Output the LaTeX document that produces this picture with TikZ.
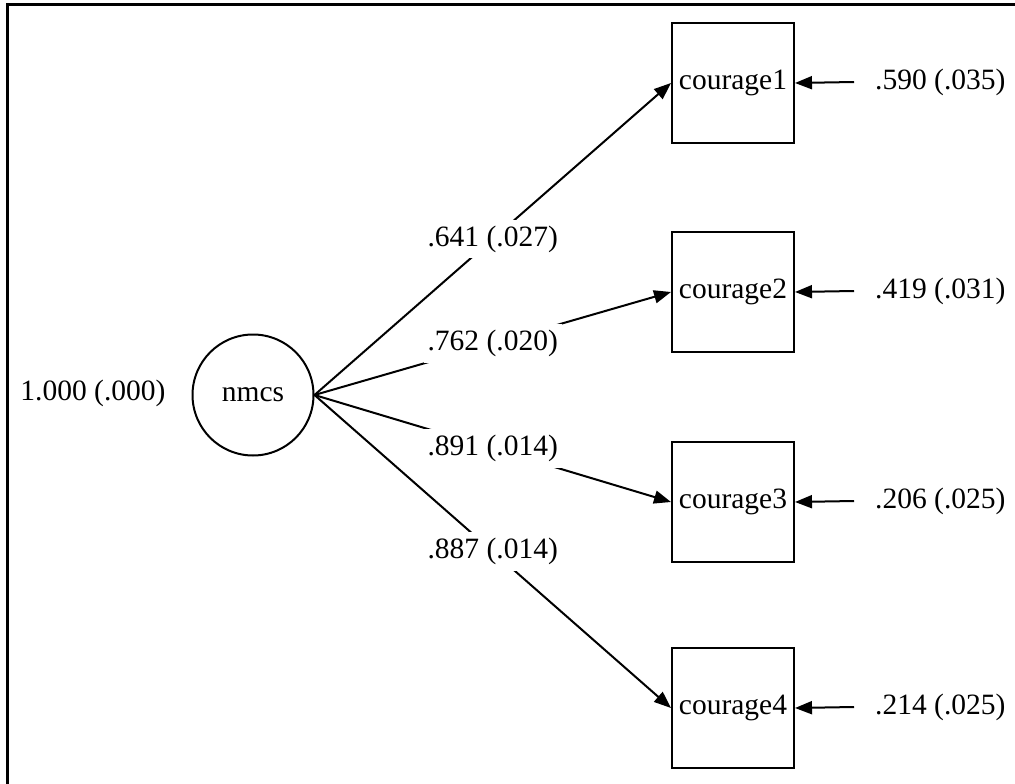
\documentclass[tikz,border=0pt]{standalone}
\usepackage{fontspec}
\setmainfont{Liberation Serif}
\usetikzlibrary{arrows.meta}
\begin{document}
\begin{tikzpicture}[x=1pt,y=-1pt,
  every node/.style={font=\fontsize{29.5}{32}\selectfont},
  obs/.style={draw,line width=2pt,minimum width=122pt,minimum height=120pt,inner sep=0pt},
  lat/.style={draw,circle,line width=2pt,minimum size=121pt,inner sep=0pt},
  path/.style={line width=2pt,-{Triangle[length=17pt,width=13pt]}},
  coef/.style={fill=white,inner xsep=4pt,inner ysep=6pt,pos=0.5},
  txt/.style={inner sep=0pt}
]
\useasboundingbox (0,0) rectangle (1015,784);
\fill[white] (0,0) rectangle (1015,784);
\draw[line width=3pt] (7,784) -- (7,5) -- (1015,5);

\node[lat] (nmcs) at (253,395) {nmcs};
\node[txt] (nvar) at (93,393) {1.000 (.000)};

\node[obs] (c1) at (733,83) {courage1};
\node[obs] (c2) at (733,292) {courage2};
\node[obs] (c3) at (733,502) {courage3};
\node[obs] (c4) at (733,708) {courage4};

\node[txt,anchor=west] (e1) at (875,82) {.590 (.035)};
\node[txt,anchor=west] (e2) at (875,291) {.419 (.031)};
\node[txt,anchor=west] (e3) at (875,501) {.206 (.025)};
\node[txt,anchor=west] (e4) at (875,707) {.214 (.025)};

\coordinate (s1) at (854,82);
\coordinate (s2) at (854,291);
\coordinate (s3) at (854,501);
\coordinate (s4) at (854,707);

\draw[path] (s1) -- (c1.east);
\draw[path] (s2) -- (c2.east);
\draw[path] (s3) -- (c3.east);
\draw[path] (s4) -- (c4.east);

\draw[path] (nmcs.east) -- node[coef] {.641 (.027)} (c1.west);
\draw[path] (nmcs.east) -- node[coef] {.762 (.020)} (c2.west);
\draw[path] (nmcs.east) -- node[coef] {.891 (.014)} (c3.west);
\draw[path] (nmcs.east) -- node[coef] {.887 (.014)} (c4.west);
\end{tikzpicture}
\end{document}
